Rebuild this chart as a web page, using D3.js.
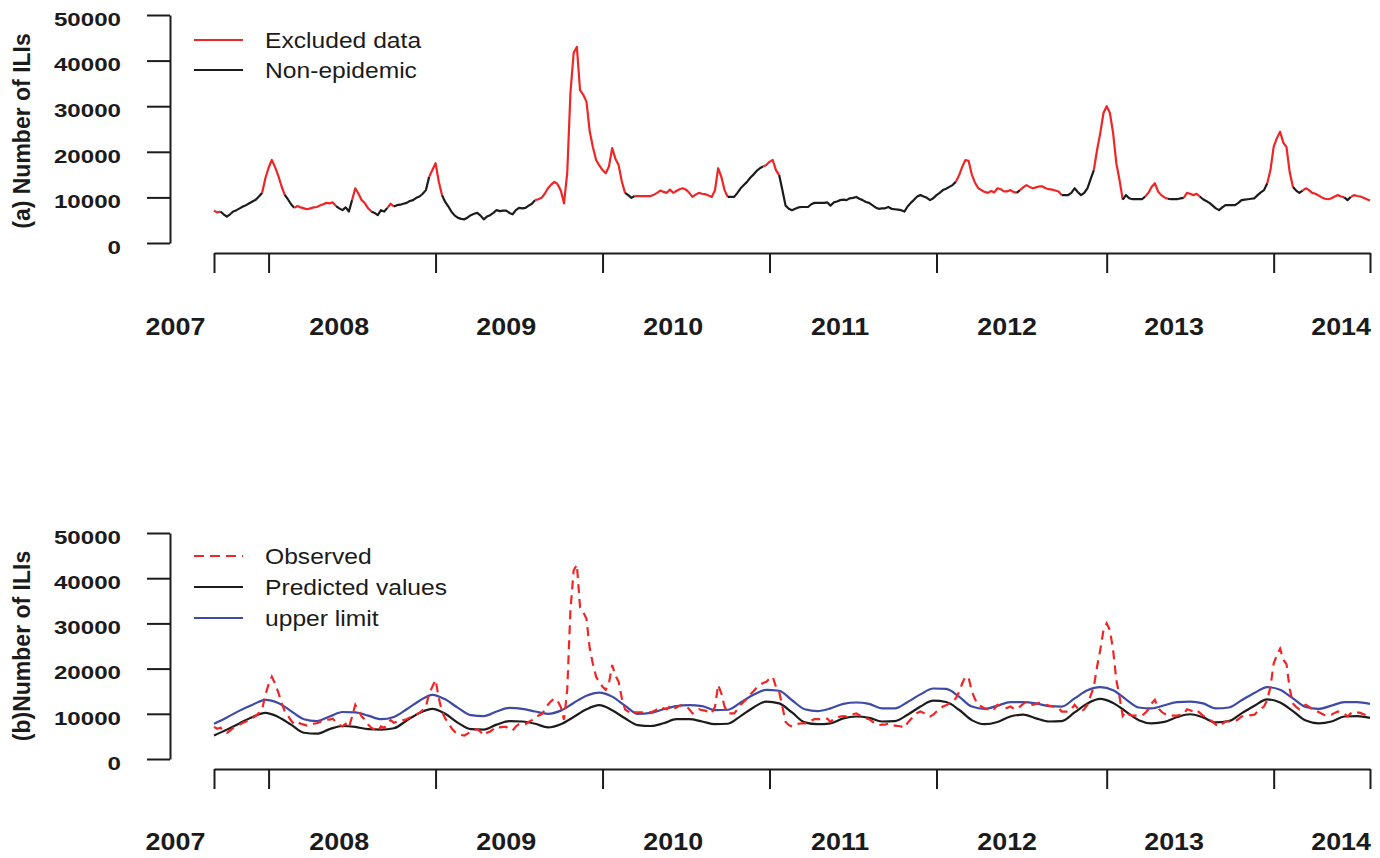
<!DOCTYPE html>
<html>
<head>
<meta charset="utf-8">
<script src="https://cdn.jsdelivr.net/npm/d3@7"></script>
<style>
  body { margin: 0; background: #fff; }
  svg { display: block; }
  text { font-family: "Liberation Sans", Arial, sans-serif; fill: #1b1b1b; }
</style>
</head>
<body>
<svg id="chart"></svg>
<script>
// weekly ILI counts (thousands), index = week since start of series
const observed = [
  7.1, 6.7, 6.9, 6.3, 5.8, 6.3, 6.9, 7.2, 7.6, 8.0,
  8.3, 8.7, 9.1, 9.5, 10.2, 11.0, 14.2, 16.5, 18.2, 16.7,
  14.8, 12.5, 10.6, 9.6, 8.5, 7.7, 8.1, 7.8, 7.6, 7.4,
  7.6, 7.8, 7.9, 8.2, 8.5, 8.8, 8.7, 8.9, 8.1, 7.6,
  7.2, 7.8, 6.9, 9.4, 12.0, 10.8, 9.4, 8.7, 7.6, 6.9,
  6.6, 6.1, 7.2, 6.9, 7.7, 8.6, 8.0, 8.3, 8.4, 8.6,
  8.8, 9.2, 9.4, 9.9, 10.2, 10.8, 11.6, 14.5, 16.0, 17.5,
  13.5, 10.5, 9.0, 8.0, 6.8, 6.0, 5.5, 5.3, 5.2, 5.6,
  6.1, 6.4, 6.6, 6.0, 5.2, 5.8, 6.1, 6.6, 7.2, 7.0,
  7.1, 7.1, 6.6, 6.3, 7.2, 7.7, 7.6, 7.7, 8.2, 8.6,
  9.4, 9.6, 9.9, 10.8, 12.0, 12.8, 13.4, 12.9, 11.5, 8.7,
  15.3, 32.9, 41.7, 43.0, 33.5, 32.5, 31.0, 24.5, 21.0, 18.2,
  17.0, 16.0, 15.3, 16.8, 20.8, 18.5, 17.1, 13.5, 11.0, 10.5,
  9.9, 10.3, 10.3, 10.3, 10.3, 10.3, 10.3, 10.6, 11.0, 11.5,
  11.2, 11.0, 11.7, 11.0, 11.4, 11.8, 12.0, 11.7, 11.0, 10.1,
  10.6, 11.0, 10.8, 10.7, 10.4, 10.1, 11.5, 16.4, 14.5, 11.6,
  10.1, 10.1, 10.1, 11.0, 12.0, 12.7, 13.4, 14.3, 15.0, 15.8,
  16.4, 16.8, 17.1, 17.8, 18.2, 16.0, 14.9, 11.6, 8.2, 7.5,
  7.2, 7.5, 7.8, 7.9, 7.9, 7.9, 8.5, 8.8, 8.8, 8.8,
  8.8, 8.9, 8.2, 8.9, 9.1, 9.4, 9.5, 9.4, 9.8, 9.9,
  10.1, 9.7, 9.4, 9.0, 8.8, 8.3, 7.8, 7.5, 7.6, 7.6,
  7.9, 7.5, 7.4, 7.3, 7.2, 6.9, 8.0, 8.8, 9.5, 10.2,
  10.5, 10.2, 9.9, 9.4, 9.8, 10.5, 11.0, 11.6, 11.9, 12.3,
  12.7, 13.4, 14.8, 16.7, 18.2, 18.0, 15.0, 13.2, 12.0, 11.6,
  11.2, 11.0, 11.4, 11.1, 12.0, 11.8, 11.3, 11.3, 11.6, 11.2,
  11.0, 11.6, 12.2, 12.7, 12.3, 12.0, 12.2, 12.4, 12.4, 12.0,
  11.8, 11.7, 11.5, 11.3, 10.5, 10.5, 10.5, 11.0, 12.0, 11.2,
  10.5, 11.0, 12.0, 14.0, 16.0, 20.4, 24.1, 28.5, 30.0, 28.5,
  24.1, 17.5, 13.8, 9.5, 10.5, 9.8, 9.6, 9.6, 9.6, 9.6,
  10.2, 11.0, 12.3, 13.1, 11.3, 10.5, 10.0, 9.7, 9.6, 9.6,
  9.6, 9.8, 9.9, 11.0, 10.8, 10.5, 10.8, 10.2, 9.6, 9.2,
  8.8, 8.2, 7.6, 7.2, 7.8, 8.3, 8.3, 8.3, 8.3, 8.8,
  9.4, 9.5, 9.6, 9.7, 9.8, 10.5, 11.1, 11.6, 13.1, 16.0,
  21.1, 23.0, 24.4, 22.0, 21.0, 15.5, 12.3, 11.5, 11.0, 11.5,
  12.0, 11.6, 11.0, 10.8, 10.4, 10.0, 9.7, 9.6, 9.8, 10.2,
  10.5, 10.2, 10.0, 9.4, 10.1, 10.5, 10.3, 10.2, 9.9, 9.6,
  9.3
]

// weeks flagged as excluded (epidemic) data, [from, to]
const excludedRanges = [
  [0, 2], [15, 22], [25, 38], [43, 49], [54, 56], [67, 71], [100, 128],
  [131, 160], [171, 176], [231, 250], [251, 264], [274, 283], [290, 297],
  [302, 307], [328, 336], [339, 352], [354, 360]
]

// model output, read every 4 weeks
const fitWeeks = d3.range(0, 361, 4)
const predicted = [
  5.2, 6.5, 7.9, 9.3, 10.2, 9.3, 7.6, 5.8, 5.6, 6.6,
  7.3, 7.1, 6.6, 6.5, 6.8, 8.5, 10.2, 11.1, 10.0, 8.0,
  6.6, 6.5, 7.6, 8.4, 8.3, 7.8, 7.0, 7.7, 9.3, 11.0,
  11.9, 10.8, 9.0, 7.5, 7.3, 7.9, 8.8, 8.8, 8.3, 7.7,
  7.8, 9.5, 11.4, 12.7, 12.3, 10.3, 8.1, 7.7, 7.9, 9.0,
  9.4, 9.1, 8.3, 8.4, 9.8, 11.6, 12.9, 12.6, 10.9, 8.6,
  7.7, 8.2, 9.4, 9.8, 9.0, 8.3, 8.4, 10.3, 12.3, 13.3,
  12.4, 10.5, 8.6, 7.9, 8.2, 9.3, 9.9, 9.2, 8.1, 8.4,
  10.1, 11.8, 13.2, 12.5, 10.6, 8.5, 7.9, 8.3, 9.4, 9.5,
  9.1
]
const upperLimit = [
  7.8, 9.2, 10.7, 12.0, 13.1, 12.4, 10.6, 8.8, 8.4, 9.4,
  10.4, 10.3, 9.6, 8.8, 9.3, 11.0, 12.9, 14.2, 13.2, 11.3,
  9.7, 9.5, 10.5, 11.3, 11.1, 10.5, 10.0, 10.7, 12.4, 14.0,
  14.7, 13.8, 11.8, 10.0, 10.2, 11.0, 11.7, 11.9, 11.7, 10.8,
  10.9, 12.5, 14.2, 15.3, 15.1, 13.0, 11.0, 10.6, 11.2, 12.2,
  12.5, 12.2, 11.2, 11.2, 12.6, 14.3, 15.6, 15.5, 13.8, 11.6,
  11.1, 11.8, 12.6, 12.6, 12.3, 11.7, 11.6, 13.4, 15.2, 15.9,
  15.2, 13.2, 11.4, 11.2, 11.9, 12.6, 12.7, 12.3, 11.2, 11.4,
  13.0, 14.6, 15.9, 15.3, 13.4, 11.5, 11.1, 11.8, 12.6, 12.6,
  12.2
]

const yTickValues = [0, 10000, 20000, 30000, 40000, 50000]
const xTickWeeks = [0, 17, 69, 121, 173, 225, 278, 330, 360]
const yearLabels = ["2007", "2008", "2009", "2010", "2011", "2012", "2013", "2014"]
const yearLabelWeeks = [-12, 39, 91, 143, 195, 247, 299, 351]

const legendA = ["Excluded data", "Non-epidemic"]
const legendB = ["Observed", "Predicted values", "upper limit"]

const RED = "#f02525", BLACK = "#1c1c1c", BLUE = "#3d4aa6"

const dimensions = { width: 1380, height: 858, axisX: 170, left: 214, right: 1370 }

const svg = d3.select("#chart").attr("width", dimensions.width).attr("height", dimensions.height)

const xScale = d3.scaleLinear().domain([0, 360]).range([dimensions.left, dimensions.right])

const panels = [
  { top: 15, bottom: 243, axisY: 253, yearY: 326, title: "(a) Number of ILIs", titleY: 131 },
  { top: 533, bottom: 759, axisY: 769, yearY: 841, title: "(b)Number of ILIs", titleY: 646 }
]

const drawFrame = (p) => {
  const yScale = d3.scaleLinear().domain([0, 50000]).range([p.bottom, p.top])

  const yAxis = d3.axisLeft(yScale).tickValues(yTickValues).tickSize(23).tickSizeOuter(0).tickFormat("")
  svg.append("g").attr("transform", `translate(${dimensions.axisX},0)`).call(yAxis)
    .call(g => g.selectAll("path, line").attr("stroke", BLACK).attr("stroke-width", 2))

  svg.append("g").selectAll("text").data(yTickValues).join("text")
    .attr("transform", d => `translate(121,${yScale(d) + 4}) scale(1.27,1)`)
    .attr("text-anchor", "end").attr("dy", "0.36em")
    .style("font-size", "19px").style("font-weight", "bold")
    .text(d => d)

  const xAxis = d3.axisBottom(xScale).tickValues(xTickWeeks).tickSize(20).tickSizeOuter(0).tickFormat("")
  svg.append("g").attr("transform", `translate(0,${p.axisY})`).call(xAxis)
    .call(g => g.selectAll("path, line").attr("stroke", BLACK).attr("stroke-width", 2))

  svg.append("g").selectAll("text").data(yearLabels).join("text")
    .attr("transform", (d, i) => `translate(${xScale(yearLabelWeeks[i])},${p.yearY}) scale(1.12,1)`)
    .attr("text-anchor", "middle").attr("dy", "0.36em")
    .style("font-size", "24px").style("font-weight", "bold")
    .text(d => d)

  svg.append("text")
    .attr("transform", `translate(22,${p.titleY}) rotate(-90)`)
    .attr("text-anchor", "middle").attr("dy", "0.36em")
    .style("font-size", "23px").style("font-weight", "bold")
    .text(p.title)

  return yScale
}

const drawLegend = (labels, colors, dashes, y0, step) => {
  const g = svg.append("g")
  labels.forEach((label, i) => {
    const y = y0 + i * step
    g.append("line").attr("x1", 194).attr("x2", 243).attr("y1", y).attr("y2", y)
      .attr("stroke", colors[i]).attr("stroke-width", 2.2)
      .attr("stroke-dasharray", dashes[i])
    g.append("text")
      .attr("transform", `translate(265,${y}) scale(1.12,1)`)
      .attr("dy", "0.36em").style("font-size", "22px")
      .text(label)
  })
}

// ---- panel (a) ----
const yA = drawFrame(panels[0])

const isExcluded = (i) => excludedRanges.some(r => i >= r[0] && i < r[1])
const runs = []
observed.forEach((v, i) => {
  if (i === observed.length - 1) return
  const color = isExcluded(i) ? RED : BLACK
  const last = runs[runs.length - 1]
  if (last && last.color === color) {
    last.idx.push(i + 1)
  } else {
    runs.push({ color: color, idx: [i, i + 1] })
  }
})

const lineA = d3.line().x(i => xScale(i)).y(i => yA(observed[i] * 1000))
svg.append("g").selectAll("path").data(runs).join("path")
  .attr("d", d => lineA(d.idx))
  .attr("fill", "none").attr("stroke", d => d.color)
  .attr("stroke-width", 2.2).attr("stroke-linejoin", "round")

drawLegend(legendA, [RED, BLACK], [null, null], 40, 30)

// ---- panel (b) ----
const yB = drawFrame(panels[1])

const fitLine = (vals) => d3.line().curve(d3.curveMonotoneX)
  .x((d, i) => xScale(fitWeeks[i])).y(d => yB(d * 1000))(vals)

svg.append("path").attr("d", fitLine(predicted))
  .attr("fill", "none").attr("stroke", BLACK).attr("stroke-width", 2.2)
svg.append("path").attr("d", fitLine(upperLimit))
  .attr("fill", "none").attr("stroke", BLUE).attr("stroke-width", 2.2)

const lineB = d3.line().x((d, i) => xScale(i)).y(d => yB(d * 1000))
svg.append("path").attr("d", lineB(observed))
  .attr("fill", "none").attr("stroke", RED).attr("stroke-width", 2.2)
  .attr("stroke-dasharray", "9,6")

drawLegend(legendB, [RED, BLACK, BLUE], ["10,6", null, null], 556, 31)
</script>
</body>
</html>
